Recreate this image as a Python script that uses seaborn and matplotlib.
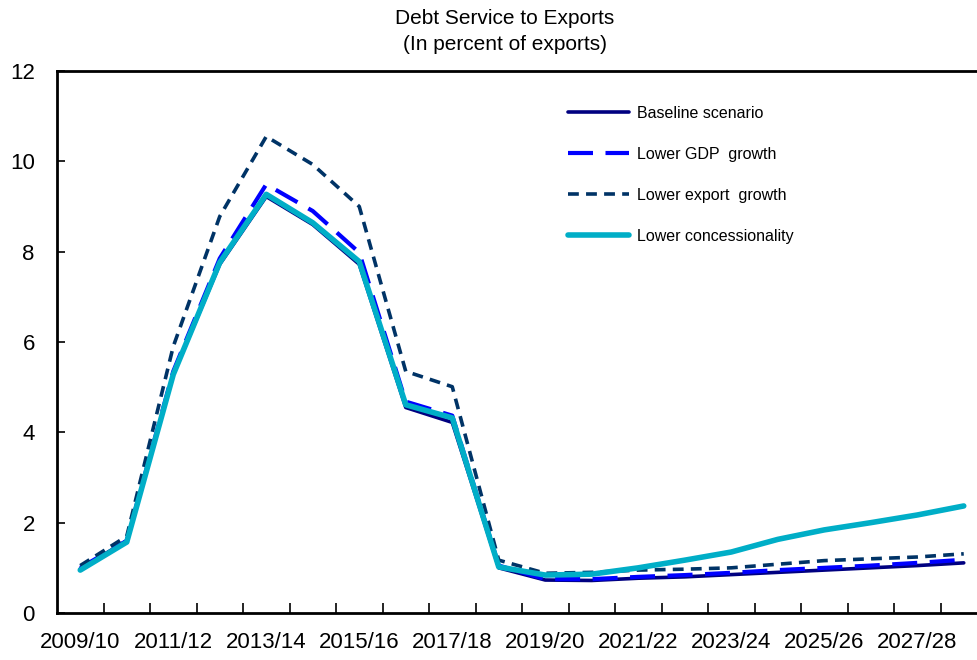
import matplotlib
matplotlib.use("Agg")
import matplotlib.pyplot as plt
import seaborn as sns
import pandas as pd
import numpy as np

sns.set_theme(style="white")
plt.rcParams['font.family'] = ['Liberation Sans', 'DejaVu Sans']
plt.rcParams['text.color'] = 'black'
plt.rcParams['xtick.color'] = 'black'
plt.rcParams['ytick.color'] = 'black'

years = ["2009/10", "2010/11", "2011/12", "2012/13", "2013/14", "2014/15", "2015/16",
         "2016/17", "2017/18", "2018/19", "2019/20", "2020/21", "2021/22", "2022/23",
         "2023/24", "2024/25", "2025/26", "2026/27", "2027/28", "2028/29"]

baseline = [0.98, 1.6, 5.28, 7.72, 9.22, 8.6, 7.72, 4.55, 4.22, 1.0,
            0.73, 0.72, 0.77, 0.80, 0.85, 0.90, 0.95, 1.00, 1.05, 1.11]
lower_gdp = [1.0, 1.6, 5.35, 7.85, 9.49, 8.9, 7.98, 4.68, 4.37, 1.05,
             0.75, 0.75, 0.80, 0.84, 0.89, 0.95, 1.00, 1.05, 1.11, 1.18]
lower_export = [1.05, 1.7, 5.9, 8.78, 10.55, 9.93, 9.0, 5.35, 5.01, 1.17,
                0.88, 0.90, 0.95, 0.97, 1.00, 1.08, 1.16, 1.20, 1.24, 1.31]
lower_concess = [0.95, 1.57, 5.28, 7.76, 9.27, 8.64, 7.78, 4.61, 4.32, 1.02,
                 0.84, 0.86, 1.00, 1.17, 1.35, 1.63, 1.84, 2.00, 2.17, 2.37]

series_names = ["Baseline scenario", "Lower GDP  growth", "Lower export  growth",
                "Lower concessionality"]
series_values = [baseline, lower_gdp, lower_export, lower_concess]

rows = []
for name, vals in zip(series_names, series_values):
    for i, (yr, v) in enumerate(zip(years, vals)):
        rows.append({"idx": i, "year": yr, "value": v, "series": name})
df = pd.DataFrame(rows)

colors = {"Baseline scenario": "#000080",
          "Lower GDP  growth": "#0000FF",
          "Lower export  growth": "#003366",
          "Lower concessionality": "#00AEC7"}
widths = {"Baseline scenario": 2.6,
          "Lower GDP  growth": 3.0,
          "Lower export  growth": 2.6,
          "Lower concessionality": 4.0}
dashes = {"Baseline scenario": (None, None),
          "Lower GDP  growth": (6, 3),
          "Lower export  growth": (3, 2),
          "Lower concessionality": (None, None)}

fig = plt.figure(figsize=(9.78, 6.6), dpi=100)
ax = fig.add_axes([57/978, 1 - 613/660, 930/978, (613-71)/660])

for name in series_names:
    sub = df[df.series == name]
    d = dashes[name]
    kw = {}
    if d[0] is not None:
        kw["dashes"] = d
    sns.lineplot(data=sub, x="idx", y="value", ax=ax, color=colors[name],
                 linewidth=widths[name], label=name, **kw)

ax.set_xlim(-0.5, len(years) - 0.5)
ax.set_ylim(0, 12)
ax.set_yticks(np.arange(0, 13, 2))
ax.set_yticklabels([str(v) for v in range(0, 13, 2)], fontsize=16)
ax.set_xticks(np.arange(0, len(years), 2))
ax.set_xticklabels(years[::2], fontsize=16)
ax.set_xticks(np.arange(0.5, len(years) - 0.5, 1), minor=True)
ax.tick_params(axis="x", which="major", bottom=False, length=0, pad=14)
ax.tick_params(axis="x", which="minor", bottom=True, direction="in", length=7, width=1.2,
               color="black")
ax.tick_params(axis="y", which="major", direction="in", length=6, width=1.2, color="black",
               left=True, pad=16)
ax.set_xlabel("")
ax.set_ylabel("")

for s in ["left", "bottom", "top"]:
    ax.spines[s].set_visible(True)
    ax.spines[s].set_color("black")
    ax.spines[s].set_linewidth(2)
ax.spines["right"].set_visible(False)

leg = ax.legend(loc="upper left", bbox_to_anchor=(0.534, 0.962), frameon=False,
                fontsize=11.5, handlelength=3.8, labelspacing=1.63, handletextpad=0.5)
for t in leg.get_texts():
    t.set_color("black")

fig.text(505/978, 1 - 18/660, "Debt Service to Exports", ha="center", va="center", fontsize=15)
fig.text(505/978, 1 - 45/660, "(In percent of exports)", ha="center", va="center", fontsize=15)

fig.savefig("out.png", dpi=100)
